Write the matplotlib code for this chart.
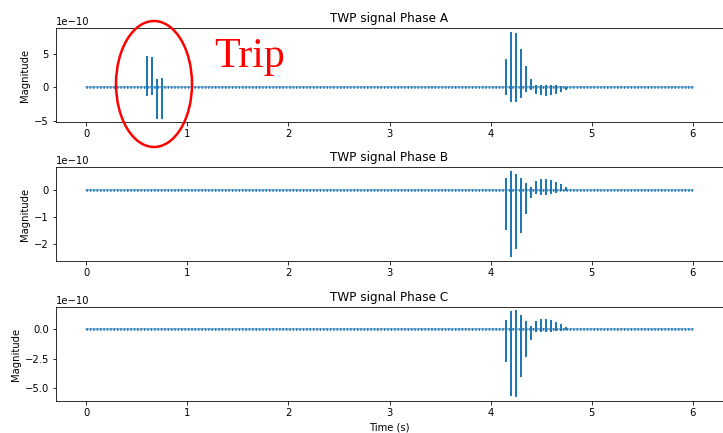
"""TWP signal per phase, with the trip burst marked on phase A."""

import matplotlib

matplotlib.use("Agg")
import matplotlib.pyplot as plt
from matplotlib.patches import Ellipse

SCALE = 1e-10
T_START, T_END = 0.0, 6.0

# Trip pulses (phase A only), values in units of 1e-10
TRIP_T = [0.60, 0.65, 0.70, 0.75]
TRIP_A_MAX = [4.7, 4.5, 1.2, 1.3]
TRIP_A_MIN = [-1.3, -1.2, -4.7, -4.7]

# Fault burst pulses, values in units of 1e-10
BURST_T = [4.15, 4.20, 4.25, 4.30, 4.35, 4.40, 4.45, 4.50, 4.55, 4.60, 4.65, 4.70, 4.75]
A_MAX = [4.2, 8.2, 8.0, 5.7, 3.2, 1.25, 0.25, 0.3, 0.3, 0.3, 0.25, 0.15, 0.05]
A_MIN = [-1.25, -2.2, -2.2, -1.6, -0.75, -0.5, -1.0, -1.25, -1.35, -1.25, -1.0, -0.75, -0.5]
B_MAX = [0.42, 0.70, 0.58, 0.42, 0.25, 0.09, 0.33, 0.40, 0.38, 0.35, 0.28, 0.20, 0.11]
B_MIN = [-1.50, -2.50, -2.20, -1.62, -0.91, -0.32, -0.17, -0.19, -0.18, -0.15, -0.11, -0.06, -0.04]
C_MAX = [0.76, 1.50, 1.64, 1.18, 0.68, 0.28, 0.65, 0.85, 0.85, 0.79, 0.60, 0.42, 0.17]
C_MIN = [-2.74, -5.68, -5.70, -4.07, -2.37, -0.93, -0.28, -0.25, -0.25, -0.25, -0.20, -0.14, -0.06]

# y ticks per phase (units of 1e-10)
A_TICKS = [-5, 0, 5]
B_TICKS = [-2, -1, 0]
C_TICKS = [-5.0, -2.5, 0.0]
X_TICKS = [0, 1, 2, 3, 4, 5, 6]

PHASES = [
    ("A", TRIP_T, TRIP_A_MAX, TRIP_A_MIN, A_MAX, A_MIN, A_TICKS, (-5.2, 8.8)),
    ("B", [], [], [], B_MAX, B_MIN, B_TICKS, (-2.64, 0.84)),
    ("C", [], [], [], C_MAX, C_MIN, C_TICKS, (-6.07, 1.86)),
]

W, H = 723, 433
AX_LEFT, AX_RIGHT = 56, 723
AX_TOPS = [28, 167, 307]
AX_H = 94
COLOR = "#1f77b4"

fig = plt.figure(figsize=(W / 72, H / 72), dpi=72)

axes = []
for (name, tt, tmax, tmin, bmax, bmin, yticks, ylim), top in zip(PHASES, AX_TOPS):
    ax = fig.add_axes([AX_LEFT / W, 1 - (top + AX_H) / H, (AX_RIGHT - AX_LEFT) / W, AX_H / H])
    # baseline, with the sampled ripple texture
    ax.plot([T_START, T_END], [0, 0], color=COLOR, lw=1.5, alpha=0.6)
    ax.plot([T_START, T_END], [0, 0], color=COLOR, lw=2.6, ls=(0, (0.55, 0.75)))
    times = list(tt) + BURST_T
    highs = [v * SCALE for v in list(tmax) + bmax]
    lows = [v * SCALE for v in list(tmin) + bmin]
    ax.vlines(times, lows, highs, color=COLOR, lw=2)
    ax.set_xlim(-0.3, 6.3)
    ax.set_xticks(X_TICKS)
    ax.set_yticks([v * SCALE for v in yticks])
    ax.set_ylim(ylim[0] * SCALE, ylim[1] * SCALE)
    ax.set_title(f"TWP signal Phase {name}", fontsize=12)
    ax.set_ylabel("Magnitude", fontsize=10)
    ax.tick_params(labelsize=10)
    axes.append(ax)

axes[-1].set_xlabel("Time (s)", fontsize=10)

# Trip annotation drawn over the figure
fig.patches.append(
    Ellipse((154 / W, 1 - 84 / H), 76 / W, 126 / H, transform=fig.transFigure,
            fill=False, edgecolor="red", lw=2.5, figure=fig)
)
fig.text(250 / W, 1 - 67 / H, "Trip", color="red", fontsize=42,
         family="Liberation Serif", ha="center", va="baseline")

fig.savefig("out.png", dpi=72)
